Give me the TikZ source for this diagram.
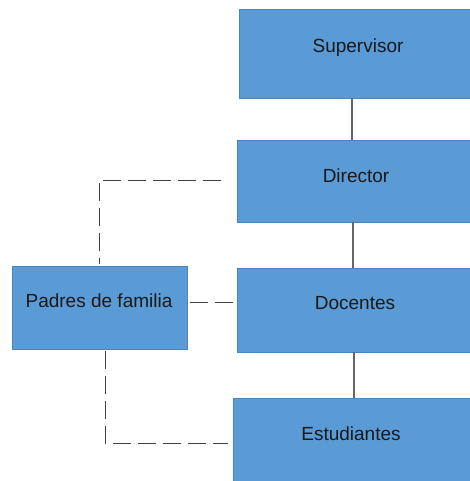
\documentclass[tikz,border=0pt]{standalone}
\usepackage{fontspec}
\setmainfont{Liberation Sans}
\definecolor{boxfill}{HTML}{5B9BD5}
\definecolor{boxline}{HTML}{4A86BE}
\begin{document}
\begin{tikzpicture}[x=1pt,y=-1pt,
  box/.style={draw=boxline, line width=0.8pt, fill=boxfill},
  lbl/.style={inner sep=0pt, font=\fontsize{19}{22}\selectfont, text=black!90},
  solidcon/.style={draw=gray!80!black, line width=1.3pt},
  dashcon/.style={draw=black!75, line width=1pt, dash pattern=on 18pt off 7pt}]
\useasboundingbox (0,0) rectangle (469,481);
\path[box] (239,9) rectangle (472,98);
\node[lbl] (sup) at (358,48) {Supervisor};
\path[box] (237,140) rectangle (472,222);
\node[lbl] (dir) at (356,176) {Director};
\path[box] (237,268) rectangle (472,352);
\node[lbl] (doc) at (355,303) {Docentes};
\path[box] (233,398) rectangle (472,484);
\node[lbl] (est) at (351,434) {Estudiantes};
\path[box] (12,266) rectangle (187,349);
\node[lbl] (pad) at (99,301) {Padres de familia};
\coordinate (supB) at (352,98);
\coordinate (dirT) at (352,140);
\coordinate (dirB) at (353,222);
\coordinate (docT) at (353,268);
\coordinate (docB) at (354,352);
\coordinate (estT) at (354,398);
\draw[solidcon] (supB) -- (dirT);
\draw[solidcon] (dirB) -- (docT);
\draw[solidcon] (docB) -- (estT);
\coordinate (dirL) at (221,180);
\coordinate (padT) at (99,264);
\coordinate (padR) at (190,302);
\coordinate (docL) at (233,302);
\coordinate (padB) at (105,351);
\coordinate (estL) at (228,443);
\draw[dashcon] (dirL) -- (99,180) -- (padT);
\draw[dashcon] (padR) -- (docL);
\draw[dashcon] (padB) -- (105,443) -- (estL);
\end{tikzpicture}
\end{document}
